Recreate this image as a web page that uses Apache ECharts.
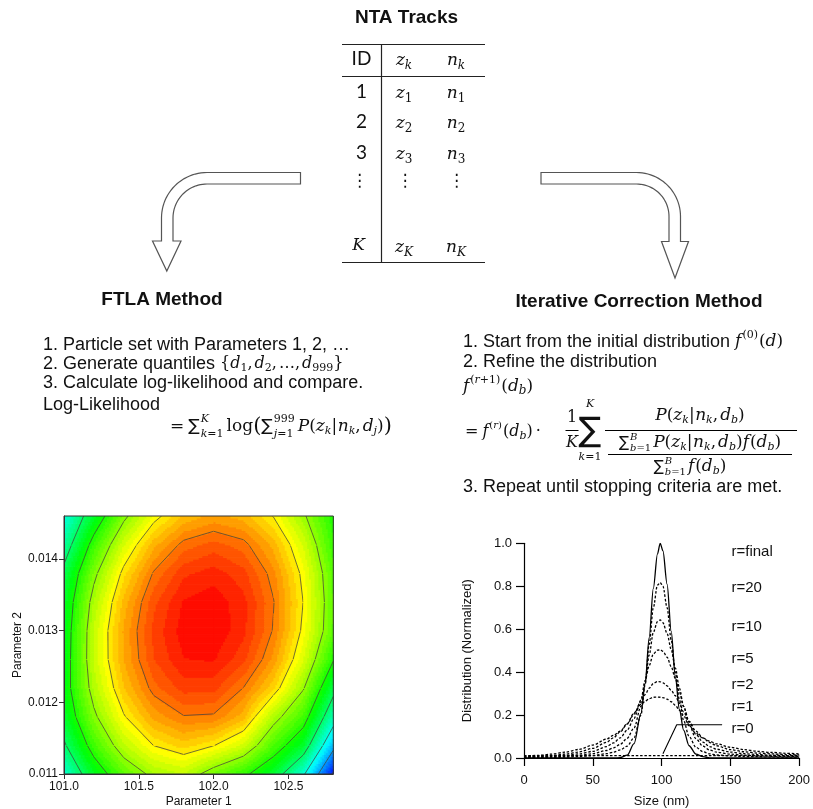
<!DOCTYPE html>
<html>
<head>
<meta charset="utf-8">
<title>NTA Tracks – FTLA vs Iterative Correction</title>
<script src="https://cdn.jsdelivr.net/npm/echarts@6.0.0/dist/echarts.min.js"></script>
<style>html,body{margin:0;padding:0;background:#fff;}#chart{width:813px;height:809px;}</style>
</head>
<body>
<div id="chart"></div>
<script>
// ===================== DATA =====================
// Contour plot: relative log-likelihood on a 10 x 10 grid
const param1Values = [101.0, 101.2, 101.4, 101.6, 101.8, 102.0, 102.2, 102.4, 102.6, 102.8];
const param2Values = [0.0110, 0.0114, 0.0118, 0.0122, 0.0126, 0.0130, 0.0134, 0.0138, 0.0142, 0.0146];
const logLik_p2_0110 = [-5.83, -4.45, -3.46, -2.84, -2.62, -3.30, -3.85, -4.60, -5.90, -8.10];
const logLik_p2_0114 = [-5.10, -3.69, -2.65, -1.99, -1.71, -1.98, -2.49, -3.61, -4.55, -6.77];
const logLik_p2_0118 = [-4.57, -3.12, -2.04, -1.34, -1.02, -1.05, -1.52, -2.75, -3.67, -5.60];
const logLik_p2_0122 = [-4.35, -2.74, -1.62, -0.88, -0.52, -0.53, -1.01, -1.75, -2.95, -4.75];
const logLik_p2_0126 = [-4.40, -2.55, -1.39, -0.61, -0.21, -0.18, -0.54, -1.27, -2.38, -3.95];
const logLik_p2_0130 = [-4.45, -2.56, -1.36, -0.54, -0.09, -0.03, -0.34, -1.03, -2.10, -3.45];
const logLik_p2_0134 = [-4.55, -2.76, -1.51, -0.65, -0.17, -0.06, -0.33, -0.98, -2.01, -3.42];
const logLik_p2_0138 = [-4.80, -3.15, -1.86, -0.96, -0.44, -0.29, -0.52, -1.13, -2.12, -3.49];
const logLik_p2_0142 = [-5.43, -3.73, -2.41, -1.46, -0.90, -0.71, -0.90, -1.47, -2.42, -3.75];
const logLik_p2_0146 = [-5.95, -4.50, -3.14, -2.16, -1.55, -1.33, -1.48, -2.02, -2.91, -3.95];
const contourLevels = [-1, -2, -3, -4, -5, -6, -7, -8];
const param1Ticks = [101.0, 101.5, 102.0, 102.5];
const param2Ticks = [0.011, 0.012, 0.013, 0.014];

// Distribution plot
const sizeNm = [0,10,20,30,40,50,60,65,70,75,80,85,88,91,94,97,99,101,104,107,110,113,116,120,125,130,135,140,150,160,170,180,190,200];
const rFinal = [0,0,0,0,0,0,0,0,0.002,0.013,0.067,0.208,0.345,0.56,0.79,0.95,1.0,0.965,0.81,0.59,0.377,0.225,0.13,0.057,0.018,0.006,0.001,0,0,0,0,0,0,0];
const r20 = [0.002,0.002,0.003,0.004,0.007,0.011,0.020,0.027,0.038,0.055,0.095,0.200,0.340,0.530,0.700,0.805,0.817,0.800,0.700,0.550,0.400,0.270,0.175,0.100,0.050,0.029,0.019,0.014,0.010,0.007,0.006,0.005,0.004,0.004];
const r10 = [0.003,0.004,0.005,0.008,0.012,0.020,0.035,0.047,0.064,0.092,0.140,0.240,0.350,0.480,0.585,0.635,0.643,0.630,0.580,0.505,0.420,0.325,0.240,0.155,0.090,0.055,0.037,0.027,0.018,0.013,0.010,0.008,0.007,0.006];
const r5 = [0.004,0.005,0.008,0.012,0.019,0.031,0.053,0.070,0.094,0.130,0.185,0.270,0.360,0.430,0.485,0.502,0.504,0.497,0.470,0.425,0.370,0.305,0.240,0.170,0.110,0.074,0.053,0.041,0.028,0.020,0.016,0.013,0.011,0.010];
const r2 = [0.006,0.008,0.012,0.018,0.028,0.045,0.073,0.094,0.122,0.158,0.205,0.262,0.295,0.325,0.347,0.356,0.355,0.350,0.336,0.315,0.290,0.255,0.215,0.170,0.125,0.094,0.072,0.057,0.039,0.029,0.023,0.019,0.016,0.014];
const r1 = [0.008,0.012,0.018,0.027,0.040,0.060,0.088,0.105,0.125,0.160,0.210,0.250,0.264,0.276,0.283,0.284,0.283,0.281,0.274,0.262,0.245,0.222,0.198,0.150,0.115,0.093,0.078,0.066,0.050,0.039,0.031,0.026,0.022,0.019];
const r0Size = [0, 200];
const r0Value = [0.011, 0.011];
const leaderSize = [101, 111, 144];
const leaderValue = [0.02, 0.155, 0.155];
const curveLabels = ['r=final', 'r=20', 'r=10', 'r=5', 'r=2', 'r=1', 'r=0'];

// ===================== HELPERS =====================
const logLikGrid = [logLik_p2_0110, logLik_p2_0114, logLik_p2_0118, logLik_p2_0122, logLik_p2_0126,
                    logLik_p2_0130, logLik_p2_0134, logLik_p2_0138, logLik_p2_0142, logLik_p2_0146];
const SANS = '"Liberation Sans", Arial, sans-serif';
const SERIF = '"DejaVu Serif", "Liberation Serif", serif';
const LATO = 'Lato, "Liberation Sans", sans-serif';
const SYM = '"DejaVu Sans", sans-serif';
function font(size, o) { o = o || {}; return (o.style || 'normal') + ' ' + (o.weight || 'normal') + ' ' + size + 'px ' + (o.family || SANS); }
const mctx = document.createElement('canvas').getContext('2d');
function textW(s, f) { mctx.font = f; return mctx.measureText(s).width; }
const graphics = [];
function addText(x, y, s, f, align, color) {
  graphics.push({ type: 'text', x: x, y: y, silent: true, z: 10,
    style: { text: s, font: f, fill: color || '#111', align: align || 'left', textAlign: align || 'left',
             verticalAlign: 'middle', textVerticalAlign: 'middle' } });
}
function addLine(x1, y1, x2, y2, w, color) {
  graphics.push({ type: 'line', silent: true, z: 10, shape: { x1: x1, y1: y1, x2: x2, y2: y2 },
    style: { stroke: color || '#000', lineWidth: w || 1 } });
}
function arcPts(cx, cy, r, a0, a1, n) {
  const out = [];
  for (let k = 0; k <= n; k++) {
    const a = (a0 + (a1 - a0) * k / n) * Math.PI / 180;
    out.push([cx + r * Math.cos(a), cy + r * Math.sin(a)]);
  }
  return out;
}
const MI = z => font(z, { style: 'italic', family: SERIF });
const MR = z => font(z, { family: SERIF });
const tI = (s, z, dy, g) => ({ s: s, f: MI(z), dy: dy || 0, g: g || 0 });
const tR = (s, z, dy, g) => ({ s: s, f: MR(z), dy: dy || 0, g: g || 0 });
const tS = (s, z, dy, g) => ({ s: s, f: font(z, { family: SYM }), dy: dy || 0, g: g || 0 });
const stack = (sup, sub, supDy, subDy, g) => ({ stack: true, sup: sup, sub: sub, supDy: supDy, subDy: subDy, g: g || 0 });
function layoutRow(x, y, toks, draw) {
  let cx = x;
  toks.forEach(t => {
    if (t.stack) {
      let w1 = 0, w2 = 0;
      if (t.sup) w1 = layoutRow(cx, y + t.supDy, t.sup, draw) - cx;
      if (t.sub) w2 = layoutRow(cx, y + t.subDy, t.sub, draw) - cx;
      cx += Math.max(w1, w2) + t.g;
    } else {
      if (draw) addText(cx, y + t.dy, t.s, t.f);
      cx += textW(t.s, t.f) + t.g;
    }
  });
  return cx;
}
const mathAt = (x, y, toks) => layoutRow(x, y, toks, true);
const mathCentered = (cx, y, toks) => { const w = layoutRow(0, 0, toks, false); return layoutRow(cx - w / 2, y, toks, true); };
function probTerm(z, s, last) {
  return [tI('P', z, 0, 0), tR('(', z), tI('z', z), tI('k', s, 4), tR('|', z, 0, 0.5), tI('n', z), tI('k', s, 4),
          tR(',', z, 0, 2), tI('d', z), tI(last, s, 4), tR(')', z)];
}

// ===================== TEXT / DIAGRAM =====================
const H = font(19, { weight: 'bold' });
const BODY = font(18);
addText(406.5, 18, 'NTA Tracks', H, 'center');

// table
addLine(342, 44.5, 485, 44.5, 1.2, '#222');
addLine(342, 76.5, 485, 76.5, 1.2, '#222');
addLine(342, 262.5, 485, 262.5, 1.2, '#222');
addLine(381.5, 44, 381.5, 263, 1.2, '#222');
addText(361.5, 59, 'ID', font(19, { family: LATO }), 'center');
mathCentered(404, 61, [tI('z', 17), tI('k', 12, 5)]);
mathCentered(456, 61, [tI('n', 17), tI('k', 12, 5)]);
[['1', 92], ['2', 122], ['3', 153]].forEach(r => {
  addText(361.5, r[1], r[0], font(19, { family: LATO }), 'center');
  mathCentered(404, r[1] + 2, [tI('z', 17), tR(r[0], 12, 5)]);
  mathCentered(456, r[1] + 2, [tI('n', 17), tR(r[0], 12, 5)]);
});
addText(359.5, 182, '⋮', font(17, { family: SYM }), 'center');
addText(405, 182, '⋮', font(17, { family: SYM }), 'center');
addText(456.5, 182, '⋮', font(17, { family: SYM }), 'center');
addText(358.5, 246, 'K', MI(17), 'center');
mathCentered(404, 248, [tI('z', 17), tI('K', 12, 5)]);
mathCentered(456, 248, [tI('n', 17), tI('K', 12, 5)]);

// arrows (outlined bent arrows)
const leftArrow = [[300.5, 172.5]]
  .concat(arcPts(207, 218, 45.5, -90, -180, 24))
  .concat([[161.5, 241], [152.5, 241], [166.8, 271], [181, 241], [173, 241]])
  .concat(arcPts(207, 218, 34, 180, 270, 24))
  .concat([[300.5, 184]]);
const rightArrow = [[541, 172.5]]
  .concat(arcPts(636.5, 216.5, 44, -90, 0, 24))
  .concat([[680.5, 241.5], [688.5, 241.5], [675, 278], [661.5, 241.5], [669, 241.5]])
  .concat(arcPts(636.5, 216.5, 32.5, 0, -90, 24))
  .concat([[541, 184]]);
[leftArrow, rightArrow].forEach(pts => graphics.push({ type: 'polygon', silent: true, z: 5,
  shape: { points: pts }, style: { fill: '#fff', stroke: '#555', lineWidth: 1.2 } }));

// FTLA method
addText(162, 300, 'FTLA Method', H, 'center');
addText(43, 345, '1. Particle set with Parameters 1, 2, …', BODY);
const l2 = '2. Generate quantiles ';
addText(43, 364, l2, BODY);
mathAt(43 + textW(l2, BODY), 364, [tR('{', 16), tI('d', 16), tR('1', 11, 4), tR(',', 16, 0, 2), tI('d', 16), tR('2', 11, 4),
  tR(',', 16, 0, 2), tR('…', 16), tR(',', 16, 0, 2), tI('d', 16), tR('999', 11, 4), tR('}', 16)]);
addText(43, 383, '3. Calculate log-likelihood and compare.', BODY);
addText(43, 405, 'Log-Likelihood', BODY);
mathAt(170, 427, [tR('=', 17, 0, 4), tS('∑', 17, 0, 1), stack([tI('K', 11)], [tI('k', 11), tR('=1', 11)], -8, 7, 3),
  tR('log', 17), tR('(', 21), tS('∑', 17, 0, 1), stack([tR('999', 11)], [tI('j', 11), tR('=1', 11)], -8, 7, 3)]
  .concat(probTerm(17, 11, 'j')).concat([tR(')', 21)]));

// Iterative correction method
addText(639, 302, 'Iterative Correction Method', H, 'center');
const r1txt = '1. Start from the initial distribution ';
addText(463, 342, r1txt, BODY);
mathAt(463 + textW(r1txt, BODY), 342, [tI('f', 17, 0, 1), tR('(0)', 11, -7, 1), tR('(', 17), tI('d', 17), tR(')', 17)]);
addText(463, 362, '2. Refine the distribution', BODY);
mathAt(463, 387, [tI('f', 17, 0, 1), tR('(', 11, -7), tI('r', 11, -7), tR('+1)', 11, -7, 1), tR('(', 17), tI('d', 17), tI('b', 12, 4), tR(')', 17)]);
mathAt(465, 432, [tR('=', 16, 0, 4), tI('f', 16, 0, 1), tR('(', 10, -7), tI('r', 10, -7), tR(')', 10, -7, 1), tR('(', 16),
  tI('d', 16), tI('b', 11, 4), tR(')', 16, 0, 3), tR('·', 16)]);
addText(572, 418, '1', MR(16), 'center');
addLine(565.5, 430.5, 578.5, 430.5, 1);
addText(572, 443, 'K', MI(16), 'center');
addText(590, 432, '∑', font(34, { family: SYM }), 'center');
addText(590, 404, 'K', MI(11), 'center');
mathCentered(590, 457, [tI('k', 11), tR('=1', 11)]);
addLine(605, 430.5, 797, 430.5, 1);
mathCentered(700, 416, probTerm(17, 11, 'b'));
mathCentered(700, 443, [tS('∑', 15, 0, 1), stack([tI('B', 10)], [tI('b', 10), tR('=1', 10)], -6, 5, 2)]
  .concat(probTerm(17, 11, 'b')).concat([tI('f', 17, 0, 1), tR('(', 17), tI('d', 17), tI('b', 11, 4), tR(')', 17)]));
addLine(608, 454.5, 792, 454.5, 1);
mathCentered(690, 467, [tS('∑', 15, 0, 1), stack([tI('B', 10)], [tI('b', 10), tR('=1', 10)], -6, 5, 2),
  tI('f', 17, 0, 1), tR('(', 17), tI('d', 17), tI('b', 11, 4), tR(')', 17)]);
addText(463, 487, '3. Repeat until stopping criteria are met.', BODY);

// curve labels
const labelYs = [552, 588, 627, 659, 685, 707, 729];
curveLabels.forEach((t, k) => addText(731.5, labelYs[k], t, font(15)));

// ===================== CONTOUR (custom series) =====================
const BAND = 0.2;
const cStops = [[0, [255, 0, 0]], [2.1, [255, 255, 0]], [4.2, [0, 255, 0]], [6.2, [0, 255, 255]], [8.2, [0, 0, 255]]];
function depthColor(d) {
  if (d <= cStops[0][0]) return 'rgb(255,0,0)';
  for (let k = 1; k < cStops.length; k++) {
    if (d <= cStops[k][0]) {
      const a = cStops[k - 1], b = cStops[k], f = (d - a[0]) / (b[0] - a[0]);
      const c = a[1].map((v, q) => Math.round(v + (b[1][q] - v) * f));
      return 'rgb(' + c.join(',') + ')';
    }
  }
  return 'rgb(0,0,255)';
}
const cells = [];
for (let j = 0; j < param2Values.length - 1; j++)
  for (let i = 0; i < param1Values.length - 1; i++) cells.push([i, j]);

function renderCell(params, api) {
  const i = api.value(0), j = api.value(1);
  const pA = api.coord([param1Values[i], param2Values[j]]);
  const pB = api.coord([param1Values[i + 1], param2Values[j + 1]]);
  const v00 = logLikGrid[j][i], v10 = logLikGrid[j][i + 1], v01 = logLikGrid[j + 1][i], v11 = logLikGrid[j + 1][i + 1];
  const X0 = pA[0], X1 = pB[0], Y0 = pA[1], Y1 = pB[1];
  const N = 16, dx = (X1 - X0) / N, dy = (Y1 - Y0) / N;
  const ch = [];
  for (let b = 0; b < N; b++) {
    const t = (b + 0.5) / N;
    let runStart = 0, runBand = null;
    for (let a = 0; a <= N; a++) {
      let band = null;
      if (a < N) {
        const s = (a + 0.5) / N;
        const v = v00 * (1 - s) * (1 - t) + v10 * s * (1 - t) + v01 * (1 - s) * t + v11 * s * t;
        band = Math.floor(-v / BAND);
      }
      if (a === N || band !== runBand) {
        if (runBand !== null) {
          ch.push({ type: 'rect', shape: { x: X0 + runStart * dx, y: Y0 + (b + 1) * dy, width: (a - runStart) * dx + 0.7, height: -dy + 0.7 },
            style: { fill: depthColor((runBand + 0.5) * BAND) } });
        }
        runStart = a; runBand = band;
      }
    }
  }
  const c = [v00, v10, v11, v01];
  const P = [[X0, Y0], [X1, Y0], [X1, Y1], [X0, Y1]];
  const seg = (p, q) => ch.push({ type: 'line', shape: { x1: p[0], y1: p[1], x2: q[0], y2: q[1] },
    style: { stroke: 'rgba(70,70,60,0.85)', lineWidth: 0.9 } });
  contourLevels.forEach(L => {
    const pts = {};
    for (let e = 0; e < 4; e++) {
      const va = c[e], vb = c[(e + 1) % 4];
      if ((va - L) * (vb - L) < 0) {
        const f = (L - va) / (vb - va), pa = P[e], pb = P[(e + 1) % 4];
        pts[e] = [pa[0] + f * (pb[0] - pa[0]), pa[1] + f * (pb[1] - pa[1])];
      }
    }
    const ks = Object.keys(pts).map(Number);
    if (ks.length === 2) seg(pts[ks[0]], pts[ks[1]]);
    else if (ks.length === 4) {
      const ctr = (v00 + v10 + v11 + v01) / 4;
      if ((ctr - L) * (v00 - L) > 0) { seg(pts[0], pts[1]); seg(pts[2], pts[3]); }
      else { seg(pts[3], pts[0]); seg(pts[1], pts[2]); }
    }
  });
  return { type: 'group', children: ch };
}

// ===================== CHART =====================
function lineSeries(name, ys, dashed) {
  return { type: 'line', name: name, xAxisIndex: 1, yAxisIndex: 1, silent: true, z: 4,
    data: sizeNm.map((x, k) => [x, ys[k]]), showSymbol: false, symbol: 'none',
    smooth: 0.3, smoothMonotone: 'x',
    lineStyle: { color: '#000', width: 1.3, type: dashed ? [2.5, 1.8] : 'solid' } };
}
const axisText = { color: '#111', fontFamily: SANS };
const option = {
  animation: false,
  backgroundColor: '#fff',
  textStyle: { fontFamily: SANS },
  graphic: { elements: graphics },
  grid: [
    { left: 64, top: 516, width: 269.3, height: 259, show: true, borderColor: '#333', borderWidth: 1, z: 3, backgroundColor: 'transparent' },
    { left: 524, top: 543.3, width: 277, height: 215 }
  ],
  xAxis: [
    { gridIndex: 0, type: 'value', min: 101, max: 102.8, interval: 0.5, z: 4,
      name: 'Parameter 1', nameLocation: 'middle', nameGap: 22, nameTextStyle: Object.assign({ fontSize: 12 }, axisText),
      axisLine: { show: true, onZero: false, lineStyle: { color: '#333', width: 1 } },
      axisTick: { show: true, length: 5, customValues: param1Ticks, lineStyle: { color: '#333' } },
      axisLabel: Object.assign({ fontSize: 12, margin: 7, customValues: param1Ticks, formatter: v => Number(v).toFixed(1) }, axisText),
      splitLine: { show: false } },
    { gridIndex: 1, type: 'value', min: 0, max: 200, interval: 50,
      name: 'Size (nm)', nameLocation: 'middle', nameGap: 37, nameTextStyle: Object.assign({ fontSize: 13 }, axisText),
      axisLine: { show: true, onZero: false, lineStyle: { color: '#000', width: 1.2 } },
      axisTick: { show: true, length: 8, lineStyle: { color: '#000', width: 1.2 } },
      axisLabel: Object.assign({ fontSize: 13, margin: 16 }, axisText),
      splitLine: { show: false } }
  ],
  yAxis: [
    { gridIndex: 0, type: 'value', min: 0.011, max: 0.0146, interval: 0.001, z: 4,
      name: 'Parameter 2', nameLocation: 'middle', nameGap: 40, nameTextStyle: Object.assign({ fontSize: 12 }, axisText),
      axisLine: { show: true, onZero: false, lineStyle: { color: '#333', width: 1 } },
      axisTick: { show: true, length: 5, customValues: param2Ticks, lineStyle: { color: '#333' } },
      axisLabel: Object.assign({ fontSize: 12, margin: 6, customValues: param2Ticks, formatter: v => Number(v).toFixed(3) }, axisText),
      splitLine: { show: false } },
    { gridIndex: 1, type: 'value', min: 0, max: 1, interval: 0.2,
      name: 'Distribution (Normalized)', nameLocation: 'middle', nameGap: 50, nameTextStyle: Object.assign({ fontSize: 13 }, axisText),
      axisLine: { show: true, onZero: false, lineStyle: { color: '#000', width: 1.2 } },
      axisTick: { show: true, length: 8, lineStyle: { color: '#000', width: 1.2 } },
      axisLabel: Object.assign({ fontSize: 13, margin: 12, formatter: v => Number(v).toFixed(1) }, axisText),
      splitLine: { show: false } }
  ],
  series: [
    { type: 'custom', name: 'logLik', xAxisIndex: 0, yAxisIndex: 0, data: cells, renderItem: renderCell, silent: true, z: 1,
      encode: { x: -1, y: -1 }, clip: true },
    { type: 'line', name: 'r=0', xAxisIndex: 1, yAxisIndex: 1, silent: true, z: 4, symbol: 'none',
      data: r0Size.map((x, k) => [x, r0Value[k]]), lineStyle: { color: '#000', width: 1.3, type: [2.5, 1.8] } },
    lineSeries('r=1', r1, true),
    lineSeries('r=2', r2, true),
    lineSeries('r=5', r5, true),
    lineSeries('r=10', r10, true),
    lineSeries('r=20', r20, true),
    lineSeries('r=final', rFinal, false),
    { type: 'line', name: 'leader', xAxisIndex: 1, yAxisIndex: 1, silent: true, z: 4, symbol: 'none',
      data: leaderSize.map((x, k) => [x, leaderValue[k]]), lineStyle: { color: '#000', width: 1.1 } }
  ]
};
const chart = echarts.init(document.getElementById('chart'), null, { renderer: 'canvas' });
chart.setOption(option);
</script>
</body>
</html>
